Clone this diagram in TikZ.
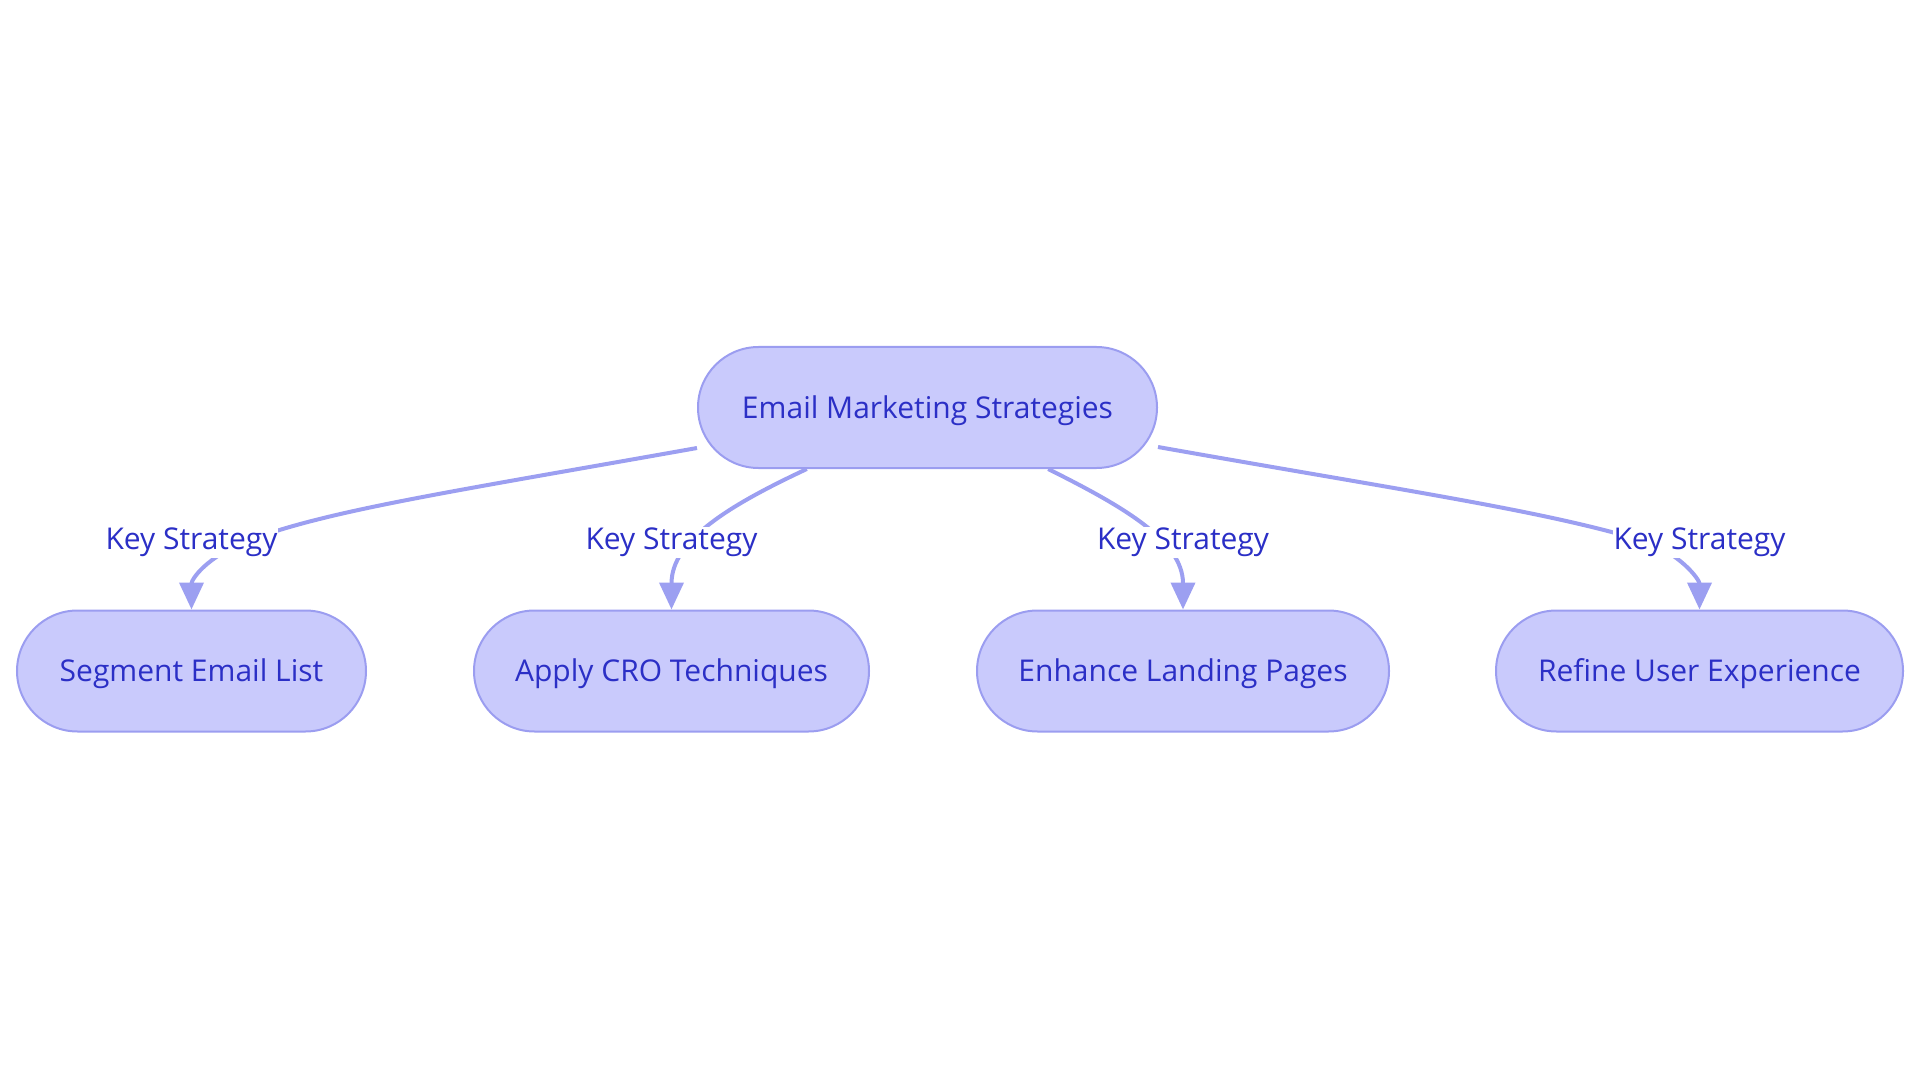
\documentclass[tikz,border=0pt]{standalone}
\usepackage{fontspec}
\setmainfont{Open Sans}
\usetikzlibrary{shapes.misc,arrows.meta,backgrounds,calc}
\definecolor{nodefill}{HTML}{C9CAFC}
\definecolor{nodeline}{HTML}{9B9DF0}
\definecolor{txt}{HTML}{2B2FC6}
\definecolor{edgec}{HTML}{9C9FF1}
\newcommand{\lowtxt}[1]{\raisebox{-3pt}[\height][\depth]{#1}}
\tikzset{
  box/.style={rounded rectangle, draw=nodeline, fill=nodefill, line width=2pt,
    text=txt, font=\fontsize{30}{36}\selectfont, minimum height=121pt, inner sep=0pt},
  conn/.style={draw=edgec, line width=4pt, -{Triangle[length=27pt,width=24pt]}},
  lbl/.style={fill=white, text=txt, font=\fontsize{30}{36}\selectfont, inner sep=1pt}
}
\begin{document}
\begin{tikzpicture}[x=1pt,y=-1pt]
\useasboundingbox (0,0) rectangle (1920,1083);
\node[box, minimum width=459pt] (top) at (927.5,407.5) {\lowtxt{Email Marketing Strategies}};
\node[box, minimum width=349pt] (seg) at (191.5,671) {\lowtxt{Segment Email List}};
\node[box, minimum width=395pt] (cro) at (671.5,671) {\lowtxt{Apply CRO Techniques}};
\node[box, minimum width=412pt] (enh) at (1183,671) {\lowtxt{Enhance Landing Pages}};
\node[box, minimum width=407pt] (ref) at (1699.5,671) {\lowtxt{Refine User Experience}};
\begin{scope}[on background layer]
\draw[conn] ($(top.west)+(0,40.5)$) .. controls (450,492) and (330,510) .. (250,540)
  .. controls (205,557) and (191.5,580) .. (seg.north);
\draw[conn] (top.207) .. controls (730,505) and (671.5,540) .. (cro.north);
\draw[conn] (top.333) .. controls (1120,505) and (1183,540) .. (enh.north);
\draw[conn] ($(top.east)+(0,39.5)$) .. controls (1400,490) and (1540,510) .. (1640,540)
  .. controls (1680,552) and (1699.5,580) .. (ref.north);
\end{scope}
\node[lbl] (l1) at (191.5,542.5) {Key Strategy};
\node[lbl] (l2) at (671.5,542.5) {Key Strategy};
\node[lbl] (l3) at (1183,542.5) {Key Strategy};
\node[lbl] (l4) at (1699.5,542.5) {Key Strategy};
\end{tikzpicture}
\end{document}
